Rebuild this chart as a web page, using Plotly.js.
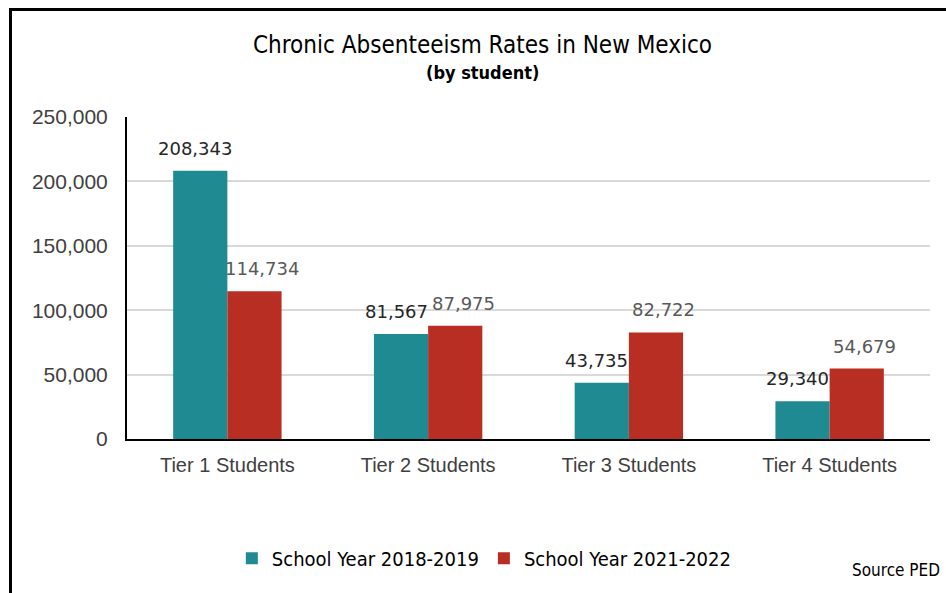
<!DOCTYPE html>
<html>
<head>
<meta charset="utf-8">
<script src="https://cdn.plot.ly/plotly-3.0.1.min.js"></script>
<style>
  html, body { margin: 0; padding: 0; background: #fff; }
  #chart { width: 946px; height: 593px; }
  #frame { position: absolute; left: 9px; top: 8px; width: 960px; height: 600px;
           border-top: 3px solid #000; border-left: 3px solid #000; pointer-events: none; }
</style>
</head>
<body>
<div id="chart"></div>
<div id="frame"></div>
<script>
const categories = ["Tier 1 Students", "Tier 2 Students", "Tier 3 Students", "Tier 4 Students"];
const seriesNames = ["School Year 2018-2019", "School Year 2021-2022"];
const values2018 = [208343, 81567, 43735, 29340];
const values2021 = [114734, 87975, 82722, 54679];
const yTicks = [0, 50000, 100000, 150000, 200000, 250000];
const yTickLabels = ["0", "50,000", "100,000", "150,000", "200,000", "250,000"];

const narrow = "'Liberation Sans Narrow', 'DejaVu Sans Condensed', 'Arial Narrow', sans-serif";
const regular = "'Liberation Sans', Arial, sans-serif";
const labelFont = "'DejaVu Sans', sans-serif";
const colors = ["#1f8a91", "#b82e22"];
const labelColors = ["#262626", "#595959"];

const traces = [
  { type: "bar", name: seriesNames[0], x: categories, y: values2018, marker: { color: colors[0] }, hoverinfo: "x+y" },
  { type: "bar", name: seriesNames[1], x: categories, y: values2021, marker: { color: colors[1] }, hoverinfo: "x+y" }
];

const bargap = 0.46;
const plotLeft = 127, plotRight = 16;
const catWidth = (946 - plotLeft - plotRight) / categories.length;
const barWidth = catWidth * (1 - bargap) / 2;

const annotations = [];
[values2018, values2021].forEach((vals, si) => {
  vals.forEach((v, i) => {
    annotations.push({
      x: categories[i], y: v, xref: "x", yref: "y",
      text: v.toLocaleString("en-US"),
      showarrow: false, yanchor: "bottom",
      xshift: si === 0 ? -barWidth / 2 - 5 : barWidth / 2 + 8,
      yshift: 10,
      font: { family: labelFont, size: 18, color: labelColors[si] }
    });
  });
});
annotations.push({
  xref: "paper", yref: "paper", x: 0.443, y: 1, yanchor: "middle", yshift: 72,
  text: "Chronic Absenteeism Rates in New Mexico", showarrow: false,
  font: { family: narrow, size: 24, color: "#000" }
});
annotations.push({
  xref: "paper", yref: "paper", x: 0.443, y: 1, yanchor: "middle", yshift: 45,
  text: "<b>(by student)</b>", showarrow: false,
  font: { family: narrow, size: 18, color: "#000" }
});
annotations.push({
  xref: "paper", yref: "paper", x: 1, xanchor: "right", y: 0, yanchor: "middle", yshift: -131, xshift: 12,
  text: "Source PED", showarrow: false,
  font: { family: narrow, size: 17, color: "#000" }
});

const layout = {
  width: 946, height: 593,
  margin: { l: plotLeft, r: plotRight, t: 117, b: 154 },
  paper_bgcolor: "#fff", plot_bgcolor: "#fff",
  barmode: "group", bargap: bargap, bargroupgap: 0,
  showlegend: true,
  legend: {
    orientation: "h", x: 0.445, xanchor: "center", y: -0.31, yanchor: "top", yref: "paper",
    font: { family: narrow, size: 20, color: "#000" },
    itemwidth: 30, tracegroupgap: 0
  },
  xaxis: {
    tickfont: { family: regular, size: 20, color: "#404040" },
    showline: true, linecolor: "#000", linewidth: 2,
    ticks: "outside", ticklen: 7, tickcolor: "rgba(0,0,0,0)",
    showgrid: false, zeroline: false, fixedrange: true
  },
  yaxis: {
    range: [0, 250000],
    tickvals: yTicks, ticktext: yTickLabels,
    tickfont: { family: regular, size: 21, color: "#404040" },
    showline: true, linecolor: "#000", linewidth: 2,
    ticks: "outside", ticklen: 13, tickcolor: "rgba(0,0,0,0)",
    showgrid: true, gridcolor: "#d9d9d9", gridwidth: 2,
    zeroline: false, fixedrange: true
  },
  annotations: annotations
};

Plotly.newPlot("chart", traces, layout, { displayModeBar: false, staticPlot: true });
</script>
</body>
</html>
